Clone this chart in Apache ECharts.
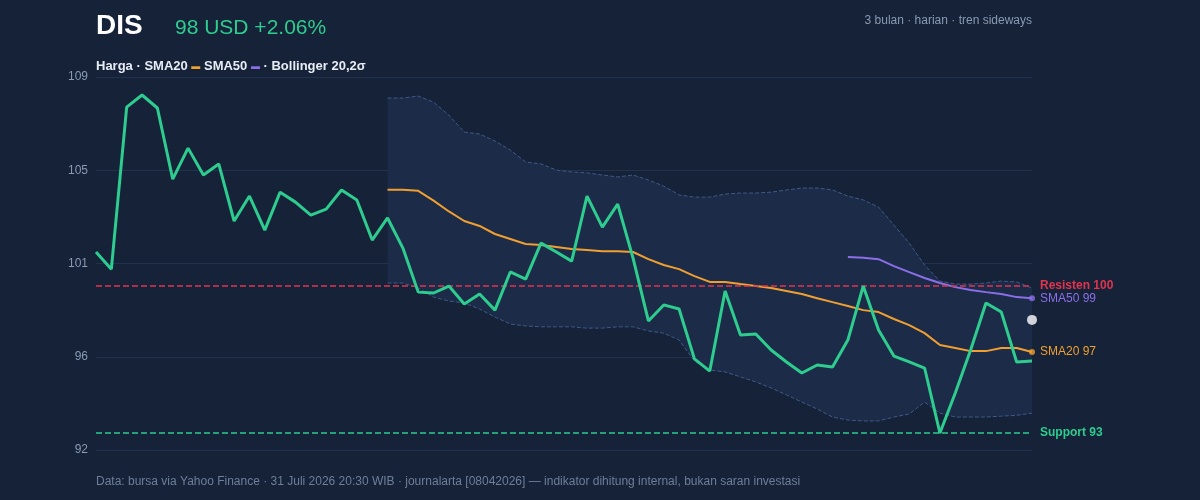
<!DOCTYPE html>
<html><head><meta charset="utf-8">
<script src="https://cdn.jsdelivr.net/npm/echarts@6/dist/echarts.min.js"></script>
<style>html,body{margin:0;background:#152238;}#c{width:1200px;height:500px;}</style>
</head><body><div id="c"></div>
<script>
const price = [101.13,100.34,107.81,108.37,107.77,104.49,105.92,104.68,105.19,102.56,103.71,102.14,103.89,103.43,102.83,103.11,103.99,103.53,101.68,102.70,101.31,99.28,99.24,99.56,98.73,99.19,98.45,100.21,99.88,101.54,101.13,100.71,103.71,102.28,103.34,100.85,97.95,98.69,98.50,96.20,95.64,99.33,97.30,97.35,96.61,96.06,95.55,95.92,95.83,97.07,99.56,97.53,96.33,96.06,95.78,92.78,94.63,96.61,98.78,98.36,96.06,96.10];
const sma20 = [104.0,104.0,103.95,103.5,103.0,102.56,102.33,101.96,101.73,101.5,101.45,101.36,101.27,101.22,101.17,101.17,101.13,100.8,100.53,100.34,100.02,99.75,99.75,99.65,99.56,99.47,99.33,99.19,99.0,98.82,98.64,98.45,98.36,98.04,97.76,97.39,96.84,96.7,96.56,96.56,96.7,96.7,96.52];
const sma50 = [100.9,100.87,100.8,100.48,100.2,99.93,99.7,99.51,99.38,99.28,99.19,99.05,99.0];
const bbUpper = [108.23,108.23,108.32,108.04,107.44,106.66,106.57,106.25,105.83,105.28,105.19,104.91,104.82,104.78,104.68,104.59,104.68,104.45,104.17,103.76,103.66,103.66,103.8,103.85,103.85,103.89,103.99,104.08,104.08,103.99,103.71,103.53,103.2,102.37,101.54,100.53,99.79,99.65,99.65,99.7,99.79,99.75,99.47];
const bbLower = [99.7,99.7,99.47,99.05,98.87,98.78,98.5,98.13,97.81,97.72,97.68,97.68,97.68,97.62,97.62,97.68,97.68,97.49,97.39,97.07,96.1,95.69,95.6,95.37,95.14,94.86,94.54,94.21,93.89,93.52,93.38,93.34,93.34,93.52,93.66,94.21,93.7,93.52,93.52,93.52,93.56,93.6,93.7];
const resistance = 99.56, support = 92.8, quote = 98;
const yTicks = {min:92, max:109.2, interval:4.3};
const N = price.length;
const cats = price.map((_, i) => i);
const pad = (arr) => Array(N - arr.length).fill('-').concat(arr);
const bandDiff = bbUpper.map((u, i) => +(u - bbLower[i]).toFixed(2));
const chart = echarts.init(document.getElementById('c'));
const F = 'Helvetica, Arial, "Liberation Sans", sans-serif';
chart.setOption({
  backgroundColor:'#152238',
  textStyle:{fontFamily:F},
  animation:false,
  grid:{left:96,right:168,top:77,bottom:50},
  graphic:[
    {type:'text',left:96,top:12,style:{text:'DIS',fill:'#ffffff',font:'bold 28px '+F}},
    {type:'text',left:175,top:18,style:{text:'98 USD +2.06%',fill:'#2ecc8f',font:'21px '+F}},
    {type:'text',right:168,top:15,style:{text:'3 bulan · harian · tren sideways',fill:'#8a9ab3',font:'12px '+F,textAlign:'right'}},
    {type:'text',left:96,top:60,style:{text:'{w|Harga · SMA20 }{o|▬}{w| SMA50 }{p|▬}{w| · Bollinger 20,2σ}',
      rich:{w:{fill:'#e8edf5',font:'bold 13px '+F},o:{fill:'#f0a030',font:'bold 9px '+F},p:{fill:'#8b6fe8',font:'bold 9px '+F}}}},
    {type:'text',left:96,top:476,style:{text:'Data: bursa via Yahoo Finance · 31 Juli 2026 20:30 WIB · journalarta [08042026] — indikator dihitung internal, bukan saran investasi',fill:'#6f7f98',font:'12px '+F}}
  ],
  xAxis:{type:'category',data:cats,boundaryGap:false,axisLine:{show:false},axisTick:{show:false},axisLabel:{show:false},splitLine:{show:false}},
  yAxis:{type:'value',min:yTicks.min,max:yTicks.max,interval:yTicks.interval,
    axisLabel:{color:'#8a9ab3',fontSize:12,formatter:v=>Math.round(v)},
    axisLine:{show:false},axisTick:{show:false},
    splitLine:{lineStyle:{color:'#22314d',width:1}}},
  series:[
    {type:'line',data:pad(bbLower),stack:'bb',symbol:'none',lineStyle:{color:'#3d5a88',type:'dashed',width:1},areaStyle:{opacity:0},z:1},
    {type:'line',data:pad(bandDiff),stack:'bb',symbol:'none',lineStyle:{opacity:0},areaStyle:{color:'#1c2b48',opacity:1},z:1},
    {type:'line',data:pad(bbUpper),symbol:'none',lineStyle:{color:'#3d5a88',type:'dashed',width:1},z:2},
    {type:'line',data:pad(sma20),symbol:'none',lineStyle:{color:'#f0a030',width:2},z:3,
      endLabel:{show:true,formatter:'SMA20 97',color:'#f0a030',fontSize:12,distance:8}},
    {type:'line',data:pad(sma50),symbol:'none',lineStyle:{color:'#8b6fe8',width:2},z:3,
      endLabel:{show:true,formatter:'SMA50 99',color:'#8b6fe8',fontSize:12,distance:8}},
    {type:'line',data:price,symbol:'none',lineStyle:{color:'#2ecc8f',width:3},z:5,
      markLine:{symbol:'none',silent:true,data:[
        {yAxis:resistance,lineStyle:{color:'#e0344f',type:'dashed',width:1.5},label:{formatter:'Resisten 100',color:'#e0344f',fontWeight:'bold',fontSize:12,position:'end',distance:8}},
        {yAxis:support,lineStyle:{color:'#2ecc8f',type:'dashed',width:1.5},label:{formatter:'Support 93',color:'#2ecc8f',fontWeight:'bold',fontSize:12,position:'end',distance:8}}
      ]}},
    {type:'scatter',data:[[N-1,sma20[sma20.length-1]],[N-1,sma50[sma50.length-1]]],symbolSize:6,
      itemStyle:{color:p=>p.dataIndex===0?'#f0a030':'#8b6fe8'},z:6},
    {type:'scatter',data:[[N-1,quote]],symbolSize:10,itemStyle:{color:'#ffffff'},z:7}
  ]
});
</script></body></html>
